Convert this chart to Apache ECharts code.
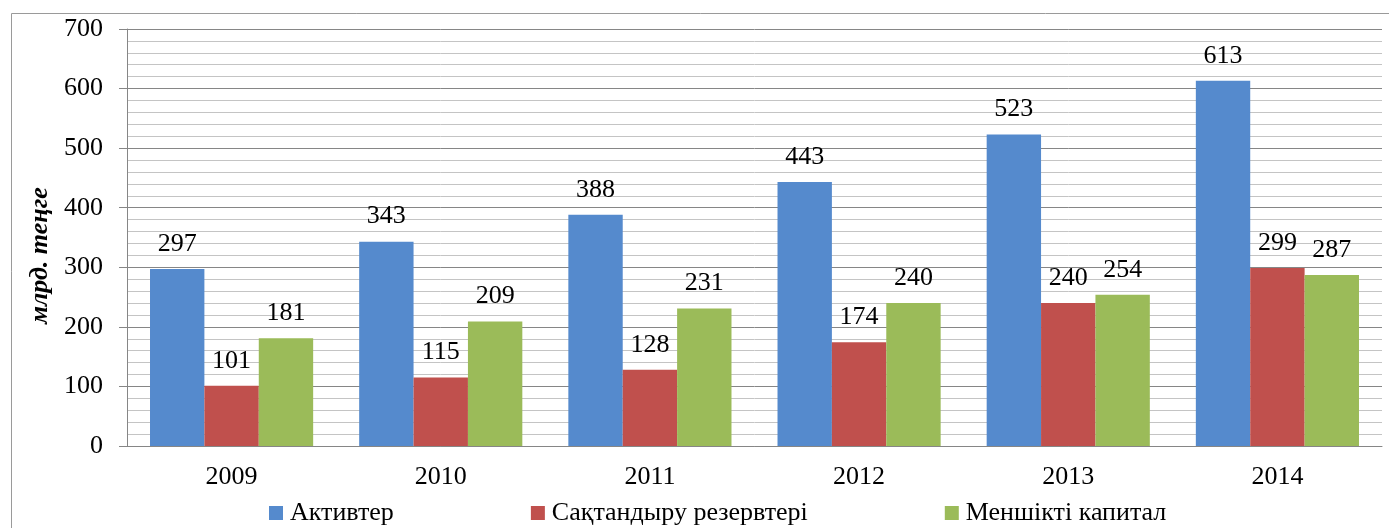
<!DOCTYPE html>
<html>
<head>
<meta charset="utf-8">
<script src="https://cdn.jsdelivr.net/npm/echarts@6/dist/echarts.min.js"></script>
<style>
  html, body { margin: 0; padding: 0; background: #fff; }
  #main { width: 1389px; height: 528px; }
</style>
</head>
<body>
<div id="main"></div>
<script>
const years = ['2009', '2010', '2011', '2012', '2013', '2014']
const assets = [297, 343, 388, 443, 523, 613]
const reserves = [101, 115, 128, 174, 240, 299]
const equity = [181, 209, 231, 240, 254, 287]
const seriesNames = ['Активтер', 'Сақтандыру резервтері', 'Меншікті капитал']
const colors = ['#558acd', '#c0504d', '#9bbb59']

const font = 'Liberation Serif, Times New Roman, serif'

function barSeries(name, values, color) {
  return {
    name: name,
    type: 'bar',
    data: values,
    barGap: '0%',
    barCategoryGap: '22%',
    itemStyle: { color: color },
    label: {
      show: true,
      position: 'top',
      distance: 12,
      color: '#000',
      fontFamily: font,
      fontSize: 26
    }
  }
}

const chart = echarts.init(document.getElementById('main'))
chart.setOption({
  animation: false,
  color: colors,
  graphic: [
    {
      type: 'rect',
      shape: { x: 11.5, y: 13.5, width: 1400, height: 600 },
      style: { fill: 'none', stroke: '#9a9a9a', lineWidth: 1 },
      silent: true
    }
  ],
  grid: { left: 127, right: 7, top: 29, bottom: 82 },
  legend: {
    top: 495,
    left: 264,
    itemGap: 137,
    itemWidth: 14,
    itemHeight: 14,
    icon: 'rect',
    textStyle: { fontFamily: font, fontSize: 26, color: '#000', padding: [0, 0, 0, 2] },
    data: seriesNames
  },
  xAxis: {
    type: 'category',
    data: years,
    axisLine: { lineStyle: { color: '#868686' } },
    axisTick: { show: false },
    axisLabel: { color: '#000', fontFamily: font, fontSize: 26, margin: 18 }
  },
  yAxis: {
    type: 'value',
    min: 0,
    max: 700,
    interval: 100,
    name: 'млрд. теңге',
    nameLocation: 'middle',
    nameGap: 67,
    nameTextStyle: {
      fontFamily: font,
      fontSize: 26,
      fontWeight: 'bold',
      fontStyle: 'italic',
      color: '#000',
      padding: [0, 36, 0, 0]
    },
    axisLine: { show: true, lineStyle: { color: '#868686' } },
    axisTick: { show: true, length: 8, lineStyle: { color: '#868686' } },
    axisLabel: { color: '#000', fontFamily: font, fontSize: 26, margin: 24 },
    splitLine: { show: true, lineStyle: { color: '#868686' } },
    minorTick: { show: false, splitNumber: 5 },
    minorSplitLine: { show: true, lineStyle: { color: '#c4c4c4' } }
  },
  series: [
    barSeries(seriesNames[0], assets, colors[0]),
    barSeries(seriesNames[1], reserves, colors[1]),
    barSeries(seriesNames[2], equity, colors[2])
  ]
})
</script>
</body>
</html>
